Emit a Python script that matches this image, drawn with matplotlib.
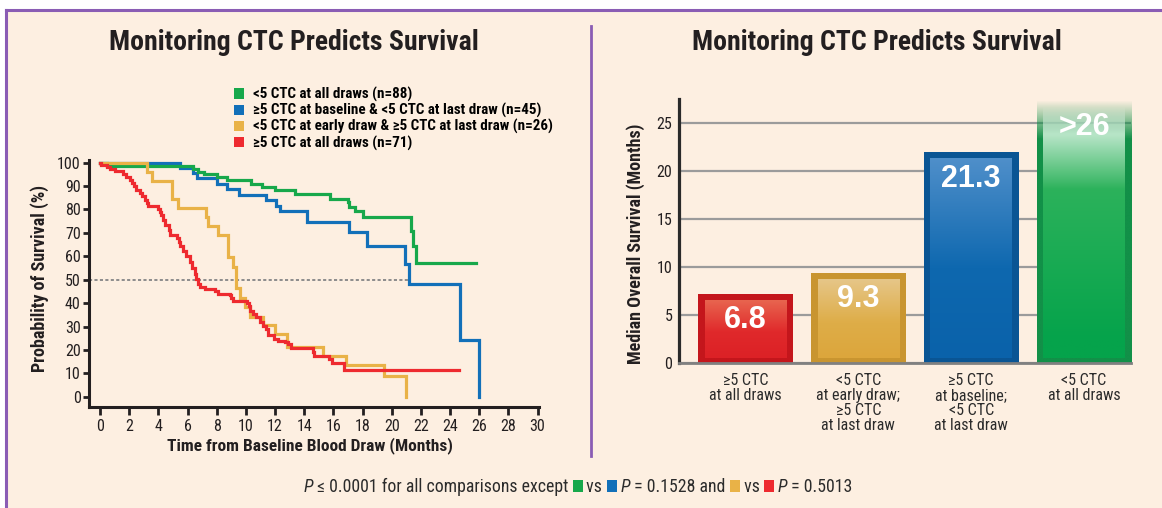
import numpy as np
import matplotlib
matplotlib.use('Agg')
import matplotlib.pyplot as plt
from matplotlib import font_manager
from matplotlib.patches import Rectangle, Patch
from matplotlib.lines import Line2D
from matplotlib.colors import to_rgb

# ---------------- data ----------------
green_t = [0, 0.45, 6.4, 6.75, 7.1, 8.0, 8.7, 10.35, 11.1, 12.0, 13.4, 15.8, 17.0, 17.1, 17.5, 18.05, 21.3, 21.45, 21.65, 25.8]
green_p = [100, 98.6, 97.4, 96.2, 95.1, 93.8, 92.5, 90.8, 89.4, 88.2, 86.8, 84.6, 83.1, 81.0, 79.5, 76.8, 70.8, 64.4, 57.3, 57.3]

blue_t = [0, 5.5, 6.4, 6.65, 8.05, 8.7, 9.5, 11.4, 12.1, 12.35, 14.2, 17.1, 18.3, 20.9, 21.2, 24.7, 26.0]
blue_p = [100, 97.8, 95.6, 93.3, 91.1, 88.9, 86.4, 84.0, 81.6, 79.2, 74.8, 70.3, 64.5, 56.5, 48.3, 24.2, 0]

gold_t = [0, 3.2, 3.55, 4.95, 5.37, 7.25, 7.4, 8.1, 8.75, 9.1, 9.35, 9.6, 9.95, 10.3, 11.2, 12.0, 12.85, 15.3, 16.9, 19.5, 20.95]
gold_p = [100, 96.2, 92.3, 84.6, 80.8, 76.9, 73.1, 69.2, 59.6, 55.5, 46.5, 42.3, 38.5, 34.0, 30.8, 26.8, 21.2, 17.3, 13.4, 9.0, 0]

red_t = [0, 0.1, 0.45, 0.7, 1.0, 1.6, 1.8, 2.05, 2.2, 2.3, 2.5, 2.75, 2.85, 3.1, 3.2,
         3.3, 4.0, 4.1, 4.2, 4.3, 4.45, 4.7, 4.8, 5.25, 5.4, 5.5, 5.7, 5.9, 6.15, 6.3,
         6.5, 6.6, 6.75, 6.85, 7.2, 7.9, 8.1, 8.9, 9.0, 9.1, 10.05, 10.2, 10.3, 10.5, 10.7,
         10.95, 11.2, 11.4, 11.5, 11.9, 12.2, 12.7, 12.9, 13.1, 14.6, 14.7, 15.7, 15.9, 16.7, 24.6]
red_p = [100, 99, 98, 97.2, 96.4, 95.2, 94, 92.6, 91.5, 90, 88.4, 87, 85.8, 84.2, 82.7,
         81.3, 80.3, 79, 77.6, 75.6, 73.5, 71.2, 69, 67.8, 66.2, 64.2, 62.3, 60, 57.6, 55.2,
         52.5, 50.3, 48.2, 46.8, 45.9, 45.0, 44.0, 43.5, 42.3, 41.0, 40.2, 38.8, 36.8, 35.3, 33.9,
         31.8, 30.3, 28.9, 26.5, 24.8, 24.0, 23.5, 22.4, 21.0, 19.2, 17.4, 16.3, 14.2, 11.2, 11.2]

median_line_end = 21.15

legend_labels = ['<5 CTC at all draws (n=88)',
                 '\u22655 CTC at baseline & <5 CTC at last draw (n=45)',
                 '<5 CTC at early draw & \u22655 CTC at last draw (n=26)',
                 '\u22655 CTC at all draws (n=71)']

bar_categories = ['\u22655 CTC\nat all draws',
                  '<5 CTC\nat early draw;\n\u22655 CTC\nat last draw',
                  '\u22655 CTC\nat baseline;\n<5 CTC\nat last draw',
                  '<5 CTC\nat all draws']
bar_heights = [7.2, 9.4, 21.9, 27.3]
bar_value_labels = ['6.8', '9.3', '21.3', '>26']

# ---------------- style ----------------
W, H, DPI = 1162, 508, 100
CREAM = '#FDEFE1'
PURPLE = '#8A5CB4'
GREEN = '#17A84B'
BLUE = '#1270B9'
GOLD = '#E9B247'
RED = '#EE2A2F'
DARK = '#231F20'
TXT = '#2b2b2b'

names = {f.name for f in font_manager.fontManager.ttflist}
NARROW = 'DejaVu Sans'
for cand in ('Roboto Condensed', 'Archivo Narrow', 'PT Sans Narrow', 'Asap Condensed',
             'Barlow Condensed', 'Liberation Sans Narrow'):
    if cand in names:
        NARROW = cand
        break
FAM = [NARROW, 'DejaVu Sans']
BOLDFAM = ['Liberation Sans', 'DejaVu Sans']
plt.rcParams['font.family'] = FAM


def fx(x):
    return x / W


def fy(y):
    return 1 - y / H


fig = plt.figure(figsize=(W / DPI, H / DPI), dpi=DPI, facecolor='white')

fig.patches.append(Rectangle((fx(6), 0), 1 - fx(6), fy(10), transform=fig.transFigure,
                             facecolor=CREAM, edgecolor='none', zorder=-10))
fig.add_artist(Line2D([fx(6), fx(6)], [0, fy(10)], color=PURPLE, lw=2.2, zorder=1))
fig.add_artist(Line2D([fx(6), 1], [fy(10), fy(10)], color=PURPLE, lw=2.2, zorder=1))
fig.add_artist(Line2D([fx(591), fx(591)], [fy(26), fy(456)], color=PURPLE, lw=2.0, zorder=1))

for cx in (294, 877):
    fig.text(fx(cx), fy(42), 'Monitoring CTC Predicts Survival', ha='center', va='center',
             fontsize=20, fontweight='bold', color=DARK)

# ---------------- left: Kaplan-Meier ----------------
ax1 = fig.add_axes([fx(89), fy(406.7), (539 - 89) / W, (406.7 - 160) / H])
ax1.set_facecolor('none')
ax1.set_xlim(-0.754, 30.1)
ax1.set_ylim(-4.27, 101.15)
for s in ('top', 'right'):
    ax1.spines[s].set_visible(False)
for s in ('left', 'bottom'):
    ax1.spines[s].set_linewidth(2.2)
    ax1.spines[s].set_color(DARK)
ax1.set_xticks(np.arange(0, 31, 2))
ax1.set_yticks(np.arange(0, 101, 10))
ax1.tick_params(axis='y', length=4, width=2, pad=2, labelsize=11.5, colors=DARK)
ax1.tick_params(axis='x', length=5.5, width=2, pad=3, labelsize=11.5, colors=DARK)

ax1.plot([ax1.get_xlim()[0], median_line_end], [50, 50], color='#8c8c8c', lw=1.4,
         ls=(0, (1.6, 1.2)), zorder=1)

for t, p, c, z in ((blue_t, blue_p, BLUE, 3), (green_t, green_p, GREEN, 4),
                   (gold_t, gold_p, GOLD, 5), (red_t, red_p, RED, 6)):
    ax1.step(t, p, where='post', color=c, lw=2.3, zorder=z, solid_joinstyle='miter')

ax1.set_ylabel('Probability of Survival (%)', fontsize=13, fontweight='bold', color=DARK)
ax1.yaxis.set_label_coords(-0.088, 0.52)
ax1.set_xlabel('Time from Baseline Blood Draw (Months)', fontsize=12.5, fontweight='bold', color=DARK)
ax1.xaxis.set_label_coords(0.49, -0.125)

handles = [Patch(facecolor=c, edgecolor='none') for c in (GREEN, BLUE, GOLD, RED)]
fig.legend(handles, legend_labels, loc='upper left', bbox_to_anchor=(fx(234), fy(87)),
           frameon=False, handlelength=0.68, handleheight=0.68, handletextpad=0.6,
           labelspacing=0.08, borderpad=0, borderaxespad=0,
           prop=dict(family=FAM, weight='bold', size=10.8))

# ---------------- right: bar chart ----------------
ax2 = fig.add_axes([fx(679.3), fy(363.3), (1131.2 - 679.3) / W, (363.3 - 98.5) / H])
ax2.set_facecolor('none')
x = np.arange(len(bar_heights))
width = 0.833
ax2.set_xlim(-0.586, 3.417)
ax2.set_ylim(0, 27.5)
ax2.set_yticks(np.arange(0, 26, 5))
ax2.yaxis.grid(True, color='#9b9b9b', lw=1.6)
ax2.set_axisbelow(True)
for s in ('top', 'right'):
    ax2.spines[s].set_visible(False)
ax2.spines['left'].set_linewidth(2.3)
ax2.spines['left'].set_color('#2a2a2a')
ax2.spines['bottom'].set_linewidth(2.0)
ax2.spines['bottom'].set_color('#808080')
ax2.spines['bottom'].set_zorder(6)
ax2.set_xticks(x)
ax2.set_xticklabels(bar_categories, fontsize=11.5, linespacing=1.0, color=TXT)
ax2.tick_params(axis='x', length=0, pad=7)
ax2.tick_params(axis='y', length=0, pad=5, labelsize=11.5, colors=DARK)
ax2.set_ylabel('Median Overall Survival (Months)', fontsize=13, fontweight='bold', color=DARK)
ax2.yaxis.set_label_coords(-0.077, 0.45)

bar_styles = [
    ('#C4161C', '#E8654F', '#E0292B', '#DC2126', False),
    ('#C99530', '#E6C688', '#DEAD48', '#DCA63C', False),
    ('#0A5594', '#4F8FCA', '#0E68AF', '#0A62AA', False),
    ('#129048', '#F4FAF2', '#2DB05A', '#02A04A', True),
]

bars = ax2.bar(x, bar_heights, width, color='none', edgecolor='none', zorder=2)


def gradient(top, mid, bot, n=256):
    top, mid, bot = (np.array(to_rgb(c)) for c in (top, mid, bot))
    f = np.linspace(0, 1, n)
    rgba = np.ones((n, 1, 4))
    for i, v in enumerate(f):
        if v < 0.45:
            c = bot + (mid - bot) * (v / 0.45)
        else:
            c = mid + (top - mid) * ((v - 0.45) / 0.55)
        rgba[i, 0, :3] = c
    return rgba


for bar, (frame, top, mid, bot, fade) in zip(bars, bar_styles):
    bx, by, bw, bh = bar.get_x(), bar.get_y(), bar.get_width(), bar.get_height()
    n = 256
    fr = np.ones((n, 1, 4))
    fr[:, 0, :3] = to_rgb(frame)
    inner = gradient(top, mid, bot, n)
    if fade:
        yy = np.linspace(by, by + bh, n)
        fr[:, 0, 3] = np.clip((by + bh - yy) / 4.0, 0, 1)
        inner[:, 0, 3] = np.clip((by + bh - yy) / 3.0, 0, 1)
        gface = np.array(to_rgb('#05A34B'))
        glight = np.array(to_rgb('#2EB35C'))
        white = np.array([1.0, 1.0, 1.0])
        low = np.clip((yy - 2) / (bh - 10), 0, 1)[:, None]
        basec = gface * (1 - low) + glight * low
        w = np.clip((yy - (bh - 9)) / 9.0, 0, 1)[:, None]
        inner[:, 0, :3] = basec * (1 - w) + white * w
    im = ax2.imshow(fr, extent=[bx, bx + bw, by, by + bh], aspect='auto', origin='lower',
                    zorder=2, interpolation='bilinear')
    im.set_clip_path(bar)
    dx, dyb, dyt = 0.055, 0.55, 0.65
    ax2.imshow(inner, extent=[bx + dx, bx + bw - dx, by + dyb, by + bh - dyt], aspect='auto',
               origin='lower', zorder=3, interpolation='bilinear')

ax2.set_xlim(-0.586, 3.417)
ax2.set_ylim(0, 27.5)

for bar, lab in zip(bars, bar_value_labels):
    ax2.annotate(lab, (bar.get_x() + bar.get_width() / 2, bar.get_height()),
                 xytext=(0, -19), textcoords='offset points', ha='center', va='center',
                 color='white', fontsize=22, fontweight='bold', family=BOLDFAM, zorder=5)

# ---------------- footnote ----------------
renderer = fig.canvas.get_renderer()
FS = 12.8
pieces = [('P', 'italic'), (' \u2264 0.0001 for all comparisons except ', 'normal'),
          ('#', GREEN), (' vs ', 'normal'), ('#', BLUE), (' ', 'normal'), ('P', 'italic'),
          (' = 0.1528 and ', 'normal'), ('#', GOLD), (' vs ', 'normal'), ('#', RED),
          (' ', 'normal'), ('P', 'italic'), (' = 0.5013', 'normal')]


def text_width(s, style):
    t1 = fig.text(0, 0, '|' + s + '|', fontsize=FS, style=style, family=FAM)
    t2 = fig.text(0, 0, '||', fontsize=FS, style=style, family=FAM)
    w = t1.get_window_extent(renderer).width - t2.get_window_extent(renderer).width
    t1.remove()
    t2.remove()
    return w


SQ_W, SQ_H = 10, 12
widths = [SQ_W if s == '#' else text_width(s, st) for s, st in pieces]
total = sum(widths)
xpos = 578 - total / 2
base = 492
for (s, st), w in zip(pieces, widths):
    if s == '#':
        fig.patches.append(Rectangle((fx(xpos), fy(base)), SQ_W / W, SQ_H / H,
                                     transform=fig.transFigure, facecolor=st,
                                     edgecolor='none', zorder=3))
    else:
        fig.text(fx(xpos), fy(base), s, fontsize=FS, style=st, family=FAM,
                 va='baseline', ha='left', color=TXT)
    xpos += w

fig.savefig('out.png', dpi=DPI, facecolor=fig.get_facecolor())
